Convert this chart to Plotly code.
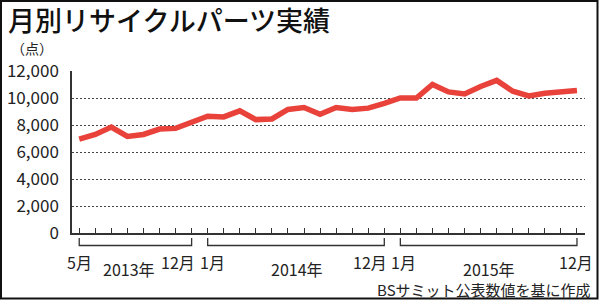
import plotly.graph_objects as go

# ---- data ----
month_index = list(range(32))  # 2013-05 .. 2015-12
values = [6950, 7300, 7850, 7150, 7300, 7700, 7750, 8250,
          8650, 8600, 9050, 8400, 8450, 9150, 9300, 8800,
          9300, 9150, 9250, 9600, 10000, 10000, 11000, 10450,
          10300, 10850, 11300, 10500, 10150, 10350, 10450, 10550]
y_ticks = [0, 2000, 4000, 6000, 8000, 10000, 12000]
year_labels = ["2013年", "2014年", "2015年"]
year_spans = [(0, 7), (8, 19), (20, 31)]
month_labels = [("5月", 0), ("12月", 6.17), ("1月", 8.29),
                ("12月", 18.13), ("1月", 20.2), ("12月", 30.97)]
year_label_pos = [3.1, 13.55, 25.5]

title = "月別リサイクルパーツ実績"
unit = "（点）"
source = "BSサミット公表数値を基に作成"

FONT = "Noto Sans CJK JP"
W, H = 600, 300
ML, MR, MT, MB = 72, 15, 71, 67
PW = W - ML - MR
PH = H - MT - MB


def px(x):
    return (x - ML) / PW


def py(y):
    return (H - MB - y) / PH


fig = go.Figure()
fig.add_trace(go.Scatter(
    x=month_index, y=values, mode="lines",
    line=dict(color="#E8423B", width=5.5),
    hoverinfo="skip", showlegend=False,
))

shapes = []
# year brackets
for (a, b) in year_spans:
    y0, y1 = py(238), py(245.5)
    shapes.append(dict(
        type="path", xref="x", yref="paper",
        path=f"M {a},{y0} L {a},{y1} L {b},{y1} L {b},{y0}",
        line=dict(color="#333333", width=1.3),
    ))
# outer frame
shapes.append(dict(
    type="rect", xref="paper", yref="paper",
    x0=px(1), x1=px(597.5), y0=py(1), y1=py(298.5),
    line=dict(color="#111111", width=2), fillcolor="rgba(0,0,0,0)",
))

annotations = []
annotations.append(dict(
    text=title, xref="paper", yref="paper",
    x=px(6), y=py(20), xanchor="left", yanchor="middle",
    showarrow=False, font=dict(family=FONT, size=27, color="#111111", weight=500),
))
annotations.append(dict(
    text=unit, xref="paper", yref="paper",
    x=px(9), y=py(48), xanchor="left", yanchor="middle",
    showarrow=False, font=dict(family=FONT, size=14, color="#222222"),
))
for lab, xi in month_labels:
    annotations.append(dict(
        text=lab, xref="x", yref="paper", x=xi, y=py(262),
        xanchor="center", yanchor="middle", showarrow=False,
        font=dict(family=FONT, size=16, color="#222222"),
    ))
for lab, xi in zip(year_labels, year_label_pos):
    annotations.append(dict(
        text=lab, xref="x", yref="paper", x=xi, y=py(268.5),
        xanchor="center", yanchor="middle", showarrow=False,
        font=dict(family=FONT, size=16, color="#222222"),
    ))
annotations.append(dict(
    text=source, xref="paper", yref="paper",
    x=px(593), y=py(289.5), xanchor="right", yanchor="middle",
    showarrow=False, font=dict(family=FONT, size=15, color="#222222"),
))

fig.update_layout(
    width=W, height=H,
    margin=dict(l=ML, r=MR, t=MT, b=MB, pad=0, autoexpand=False),
    paper_bgcolor="white", plot_bgcolor="white",
    font=dict(family=FONT, color="#222222"),
    shapes=shapes, annotations=annotations,
    showlegend=False,
)
fig.update_xaxes(
    range=[-0.45, 31.5], tickvals=month_index, showticklabels=False,
    ticks="inside", ticklen=5, tickwidth=1, tickcolor="#333333",
    showline=True, linecolor="#333333", linewidth=1.5,
    showgrid=False, zeroline=False, fixedrange=True, automargin=False,
)
fig.update_yaxes(
    range=[0, 12000], tickvals=y_ticks, tickformat=",",
    ticks="", ticklabelstandoff=8,
    tickfont=dict(family=FONT, size=17, color="#222222"),
    showline=True, linecolor="#333333", linewidth=1.5,
    showgrid=True, gridcolor="#444444", gridwidth=1.3, griddash="2px,2px",
    zeroline=False, fixedrange=True, automargin=False,
)

fig.write_html("out.html", config={"displayModeBar": False})
